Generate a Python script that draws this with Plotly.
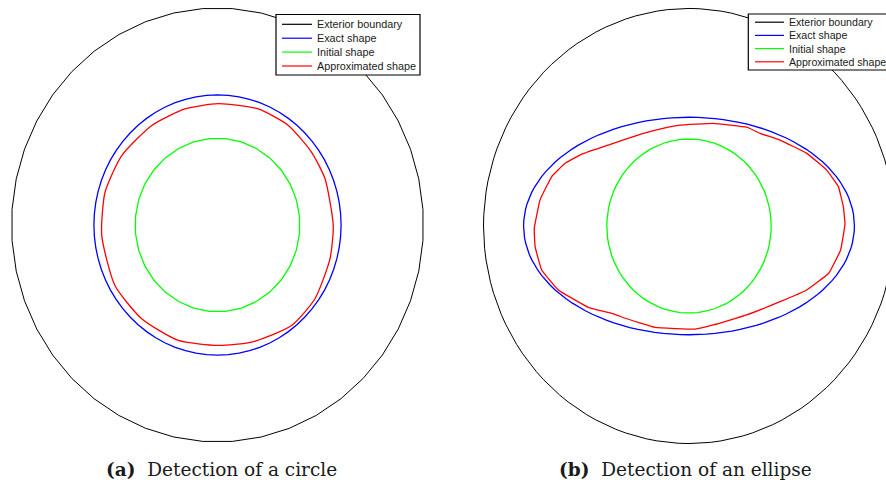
import numpy as np
import plotly.graph_objects as go

# ---------------- data ----------------
SERIES_NAMES = ["Exterior boundary", "Exact shape", "Initial shape", "Approximated shape"]
SERIES_COLORS = ["#000000", "#0000ff", "#00ff00", "#ff0000"]

# (a) circle detection
EXTERIOR_RADIUS = 1.0
CIRCLE_EXACT_RADIUS = 0.60
CIRCLE_INITIAL_RADIUS = 0.40
# approximated shape (a)
circle_approx_x = [0.004, 0.198, 0.344, 0.457, 0.522, 0.562, 0.546, 0.473, 0.360, 0.166,
                   0.004, -0.190, -0.368, -0.498, -0.562, -0.546, -0.465, -0.319, -0.158, 0.004]
circle_approx_y = [0.559, 0.535, 0.459, 0.335, 0.213, -0.002, -0.156, -0.340, -0.463, -0.540,
                   -0.555, -0.532, -0.432, -0.279, -0.048, 0.151, 0.320, 0.459, 0.535, 0.559]

# (b) ellipse detection
ELLIPSE_EXACT_A = 0.805
ELLIPSE_EXACT_B = 0.50
ELLIPSE_INITIAL_RADIUS = 0.40
ellipse_approx_x = [0.759, 0.751, 0.727, 0.670, 0.573, 0.443, 0.345, 0.281, 0.118, -0.044,
                    -0.101, -0.230, -0.393, -0.522, -0.603, -0.668, -0.725, -0.753, -0.749, -0.717,
                    -0.636, -0.490, -0.360, -0.311, -0.165, 0.029, 0.118, 0.281, 0.443, 0.573,
                    0.680, 0.738, 0.759]
ellipse_approx_y = [0.009, 0.089, 0.181, 0.257, 0.334, 0.395, 0.426, 0.454, 0.472, 0.464,
                    0.454, 0.423, 0.372, 0.330, 0.288, 0.227, 0.120, -0.011, -0.095, -0.202,
                    -0.294, -0.374, -0.406, -0.424, -0.466, -0.474, -0.455, -0.409, -0.348, -0.294,
                    -0.217, -0.110, 0.009]

CAPTIONS = ["<b>(a)</b>&nbsp; Detection of a circle", "<b>(b)</b>&nbsp; Detection of an ellipse"]


def ellipse_pts(a, b, n, offset=0.0):
    t = np.linspace(0, 2 * np.pi, n + 1) + offset
    return a * np.cos(t), b * np.sin(t)


fig = go.Figure()

# ---- panel (a) ----
ex, ey = ellipse_pts(EXTERIOR_RADIUS, EXTERIOR_RADIUS, 44, np.pi / 44)
bx, by = ellipse_pts(CIRCLE_EXACT_RADIUS, CIRCLE_EXACT_RADIUS, 72)
gx, gy = ellipse_pts(CIRCLE_INITIAL_RADIUS, CIRCLE_INITIAL_RADIUS, 32, np.pi / 32)
panel_a = [(ex, ey, 1.0), (bx, by, 1.3), (gx, gy, 1.3), (circle_approx_x, circle_approx_y, 1.3)]
for (x, y, w), name, col in zip(panel_a, SERIES_NAMES, SERIES_COLORS):
    line = dict(color=col, width=w)
    if name == "Approximated shape":
        line.update(shape="spline", smoothing=0.6)
    fig.add_trace(go.Scatter(x=x, y=y, mode="lines", name=name, line=line,
                             xaxis="x", yaxis="y", showlegend=False))

# ---- panel (b) ----
ex2, ey2 = ellipse_pts(EXTERIOR_RADIUS, EXTERIOR_RADIUS, 120)
bx2, by2 = ellipse_pts(ELLIPSE_EXACT_A, ELLIPSE_EXACT_B, 120)
gx2, gy2 = ellipse_pts(ELLIPSE_INITIAL_RADIUS, ELLIPSE_INITIAL_RADIUS, 90)
panel_b = [(ex2, ey2, 1.0), (bx2, by2, 1.3), (gx2, gy2, 1.3), (ellipse_approx_x, ellipse_approx_y, 1.3)]
for (x, y, w), name, col in zip(panel_b, SERIES_NAMES, SERIES_COLORS):
    line = dict(color=col, width=w)
    if name == "Approximated shape":
        line.update(shape="spline", smoothing=0.25)
    fig.add_trace(go.Scatter(x=x, y=y, mode="lines", name=name, line=line,
                             xaxis="x2", yaxis="y2", showlegend=False))

W, H = 886, 489
ax_common = dict(visible=False, showgrid=False, zeroline=False, fixedrange=True)

shapes = []
annotations = []


def add_legend(box, row0, row_step, line_x0, line_x1, text_x, font_size):
    # box: (left, top, right, bottom) in pixels
    l, t, r, b = box
    shapes.append(dict(type="rect", xref="paper", yref="paper",
                       x0=l / W, x1=r / W, y0=1 - b / H, y1=1 - t / H,
                       fillcolor="white", line=dict(color="black", width=1.2), layer="above"))
    for i, (name, col) in enumerate(zip(SERIES_NAMES, SERIES_COLORS)):
        yy = 1 - (row0 + i * row_step) / H
        shapes.append(dict(type="line", xref="paper", yref="paper",
                           x0=line_x0 / W, x1=line_x1 / W, y0=yy, y1=yy,
                           line=dict(color=col, width=1.2), layer="above"))
        annotations.append(dict(text=name, x=text_x / W, y=yy, xref="paper", yref="paper",
                                showarrow=False, xanchor="left", yanchor="middle",
                                font=dict(family="Liberation Sans, Arial, sans-serif",
                                          size=font_size, color="#1a1a1a")))


add_legend((276, 14.5, 420, 75), 24.3, 13.9, 282, 312, 314.5, 10.8)
add_legend((748.3, 14, 900, 70), 22.2, 13.2, 755, 784, 786.5, 10.6)

cap_font = dict(family="DejaVu Serif, serif", size=18.5, color="#1a1a1a")
annotations.append(dict(text=CAPTIONS[0], x=221 / W, y=1 - 469 / H, xref="paper", yref="paper",
                        showarrow=False, xanchor="center", yanchor="middle", font=cap_font))
annotations.append(dict(text=CAPTIONS[1], x=685 / W, y=1 - 469 / H, xref="paper", yref="paper",
                        showarrow=False, xanchor="center", yanchor="middle", font=cap_font))

fig.update_layout(
    width=W, height=H,
    margin=dict(l=0, r=0, t=0, b=0),
    paper_bgcolor="white", plot_bgcolor="white",
    xaxis=dict(domain=[7.4 / W, 427.6 / W], range=[-1.02, 1.02], **ax_common),
    yaxis=dict(domain=[42.7 / H, 485.3 / H], range=[-1.02, 1.02], **ax_common),
    xaxis2=dict(domain=[479.4 / W, 1.0], range=[-1.02, (886 - 689) / 205.5], **ax_common),
    yaxis2=dict(domain=[41.1 / H, 484.9 / H], range=[-1.02, 1.02], **ax_common),
    shapes=shapes,
    annotations=annotations,
    showlegend=False,
)

fig.write_html("out.html",
               config={"displayModeBar": False},
               post_script="document.body.style.margin='0';document.body.style.overflow='hidden';")
